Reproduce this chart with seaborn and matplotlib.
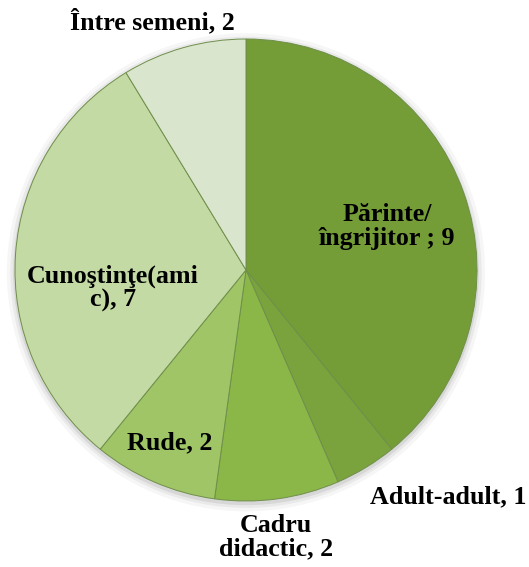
import numpy as np
import matplotlib.pyplot as plt
import seaborn as sns

# Data
categories = ['Părinte/\nîngrijitor', 'Adult-adult', 'Cadru\ndidactic', 'Rude',
              'Cunoştinţe(ami\nc)', 'Între semeni']
label_seps = [' ; ', ', ', ', ', ', ', ', ', ', ']
values = [9, 1, 2, 2, 7, 2]

# Styling
colors = ['#749c37', '#7aa33d', '#8bb749', '#9fc566', '#c3daa4', '#dae5cd']
label_pos = [(0.61, 0.19), (0.874, -0.983), (0.13, -1.156), (-0.329, -0.749),
             (-0.576, -0.078), (-0.407, 1.074)]

sns.set_theme(style='white')
plt.rcParams['font.family'] = ['Liberation Serif', 'DejaVu Serif']

fig = plt.figure(figsize=(5.29, 5.67), dpi=100)
ax = fig.add_axes([0, 0, 1, 1])

# soft shadow behind the pie
for r, a in [(1.035, 0.05), (1.02, 0.08), (1.008, 0.12)]:
    ax.add_patch(plt.Circle((0.0, -0.01), r, color='#555555', alpha=a, lw=0, zorder=0))

wedges, _ = ax.pie(values, colors=colors, startangle=90, counterclock=False,
                   radius=1, wedgeprops=dict(edgecolor='#6f8f4a', linewidth=0.7))
for w in wedges:
    w.set_zorder(1)

for cat, sep, v, (x, y) in zip(categories, label_seps, values, label_pos):
    ax.text(x, y, f'{cat}{sep}{v}', ha='center', va='center', fontsize=18.7,
            fontweight='bold', color='black', linespacing=1.05, zorder=3)

ax.set_xlim(-246 / 231, (529 - 246) / 231)
ax.set_ylim(-(567 - 270) / 231, 270 / 231)
ax.set_aspect('auto')
ax.axis('off')

fig.savefig('out.png', dpi=100)
